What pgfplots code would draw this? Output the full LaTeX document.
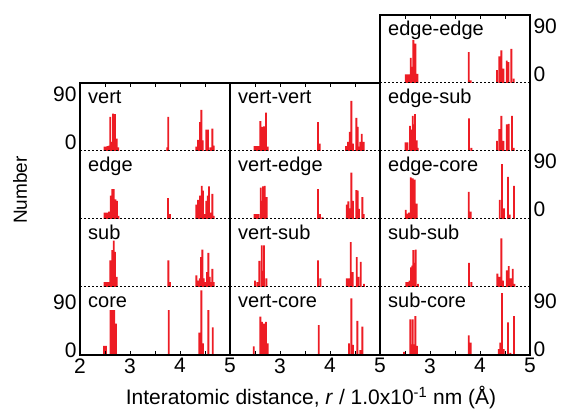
\documentclass[border=0pt]{standalone}
\usepackage{pgfplots}
\pgfplotsset{compat=1.18}
\usepackage{fontspec}
\setmainfont{Liberation Sans}
\definecolor{barred}{RGB}{237,28,36}
\newcommand{\tickfont}{\fontsize{21}{24}\selectfont}
\newcommand{\labfont}{\fontsize{20}{24}\selectfont}
\pgfplotsset{
 panel/.style={anchor=south west, scale only axis, width=150pt, height=68pt,
   xmin=2, xmax=5, ymin=0, ymax=127.5, axis line style={draw=none},
   xtick=\empty, ytick=\empty, major tick length=0pt, clip=false,
   yticklabel style={font=\tickfont}, /pgf/number format/assume math mode=true},
 leftlab/.style={ytick={0,90}, yticklabels={0,90}, yticklabel style={yshift=#1}},
 rightlab/.style={ytick={0,90}, yticklabels={0,90}, yticklabel pos=right, yticklabel style={yshift=#1}},
 frame/.style={anchor=south west, scale only axis, width=150pt,
   xmin=2, xmax=5, ymin=0, ymax=1, ytick=\empty,
   xtick={2,3,4,5}, minor xtick={2.5,3.5,4.5},
   major tick length=4pt, minor tick length=4pt, tick align=inside,
   tick style={black, line width=1pt}, axis line style={line width=2.8pt},
   xticklabel style={font=\tickfont}, /pgf/number format/assume math mode=true, clip=false}
}
\newcommand{\panel}[5]{%
 \begin{axis}[panel, at={(#1pt,#2pt)}, #4]
 \addplot[ybar, bar width=0.036, fill=barred, draw=none] coordinates {#5};
 \draw[line width=1pt, dash pattern=on 2pt off 2pt] (rel axis cs:0,0) -- (rel axis cs:1,0);
 \node[anchor=base west, font=\labfont, inner sep=0pt] at ([xshift=8pt,yshift=-21pt]rel axis cs:0,1) {#3};
 \end{axis}}
\begin{document}
\begin{tikzpicture}
\path[use as bounding box] (0,0) rectangle (563pt,412pt);
% ---- column 1
\panel{80}{261}{vert}{leftlab=9pt}{(2.49,8)(2.52,8)(2.55,9)(2.585,10)(2.607,64)(2.633,17)(2.66,70)(2.70,69)(2.733,23)(2.767,7)
 (3.747,7)(3.767,64)
 (4.327,8)(4.36,21)(4.40,54)(4.427,77)(4.453,20)(4.527,40)(4.56,40)(4.607,7)(4.647,42)(4.673,10)}
\panel{80}{193}{edge}{}{(2.49,12)(2.52,12)(2.55,12)(2.58,14)(2.613,44)(2.647,56)(2.673,56)(2.707,37)(2.74,34)(2.767,6)
 (3.76,39)(3.80,9)
 (4.327,27)(4.36,36)(4.40,44)(4.433,62)(4.46,53)(4.49,9)(4.527,34)(4.553,44)(4.58,61)(4.613,12)(4.647,47)(4.673,6)}
\panel{80}{125}{sub}{}{(2.49,9)(2.53,9)(2.565,9)(2.607,50)(2.647,69)(2.673,87)(2.70,66)(2.733,19)
 (3.767,50)(3.80,9)
 (4.327,22)(4.36,12)(4.393,16)(4.42,56)(4.447,70)(4.473,16)(4.51,9)(4.54,28)(4.567,64)(4.593,19)(4.62,9)(4.647,34)(4.673,9)}
\panel{80}{57}{core}{leftlab=5pt}{(2.48,17)(2.52,17)(2.613,84)(2.647,84)(2.687,84)(2.72,59)
 (3.773,84)
 (4.387,42)(4.427,121)(4.46,22)(4.567,84)(4.653,52)}
% ---- column 2
\panel{230}{261}{vert-vert}{}{(2.49,9)(2.53,9)(2.565,9)(2.607,56)(2.64,45)(2.68,46)(2.72,72)(2.753,8)
 (3.76,54)(3.793,14)
 (4.32,9)(4.36,17)(4.393,36)(4.427,94)(4.46,14)(4.527,62)(4.553,45)(4.58,8)(4.607,17)(4.633,32)(4.673,17)}
\panel{230}{193}{vert-edge}{}{(2.49,9)(2.53,9)(2.567,9)(2.613,59)(2.64,34)(2.66,61)(2.693,62)(2.733,41)
 (3.76,56)(3.80,9)(3.847,3)
 (4.333,27)(4.367,33)(4.40,20)(4.427,87)(4.46,34)(4.527,54)(4.553,53)(4.58,19)(4.647,41)(4.673,9)}
\panel{230}{125}{vert-sub}{}{(2.50,12)(2.547,9)(2.587,49)(2.633,78)(2.655,30)(2.68,78)(2.727,16)
 (3.76,50)(3.807,16)
 (4.333,16)(4.373,16)(4.413,84)(4.453,28)(4.533,56)(4.567,19)(4.613,47)(4.68,6)}
\panel{230}{57}{vert-core}{}{(2.473,16)(2.607,72)(2.64,62)(2.68,59)(2.72,62)(2.753,22)
 (3.773,56)
 (4.38,22)(4.427,106)(4.46,19)(4.547,64)(4.607,9)(4.647,53)}
% ---- column 3
\panel{380}{329}{edge-edge}{rightlab=9pt}{(2.513,16)(2.547,16)(2.58,16)(2.613,47)(2.64,30)(2.667,81)(2.707,74)(2.747,17)
 (3.773,58)(3.813,5)
 (4.34,24)(4.387,50)(4.427,61)(4.467,27)(4.533,42)(4.567,39)(4.627,64)(4.673,8)}
\panel{380}{261}{edge-sub}{}{(2.51,16)(2.55,16)(2.60,47)(2.627,40)(2.653,66)(2.68,50)(2.70,69)(2.735,20)(2.753,6)
 (3.78,61)(3.827,6)
 (4.34,19)(4.387,41)(4.427,66)(4.467,19)(4.533,50)(4.573,51)(4.64,66)(4.673,6)}
\panel{380}{193}{edge-core}{rightlab=10pt}{(2.513,17)(2.55,10)(2.58,12)(2.613,78)(2.653,76)(2.693,74)(2.733,29)
 (3.773,51)(3.813,14)
 (4.393,36)(4.44,103)(4.48,20)(4.56,79)(4.593,8)(4.68,62)}
\panel{380}{125}{sub-sub}{}{(2.527,9)(2.56,9)(2.59,12)(2.62,37)(2.643,40)(2.667,69)(2.69,45)(2.713,70)(2.76,6)
 (3.78,45)(3.827,9)
 (4.347,25)(4.387,19)(4.427,91)(4.46,12)(4.533,31)(4.573,39)(4.613,16)(4.653,34)(4.687,6)}
\panel{380}{57}{sub-core}{rightlab=6pt}{(2.48,6)(2.607,67)(2.63,20)(2.653,67)(2.68,20)(2.707,73)(2.74,17)
 (3.773,37)(3.813,23)
 (4.373,11)(4.407,23)(4.44,116)(4.473,11)(4.56,61)(4.607,4)(4.68,73)}
% ---- frames
\begin{axis}[frame, at={(80pt,57pt)}, height=272pt, xticklabels={2,3,4,5}]
\end{axis}
\begin{axis}[frame, at={(230pt,57pt)}, height=272pt, xticklabels={,3,4,5}]
\end{axis}
\begin{axis}[frame, at={(380pt,57pt)}, height=340pt, xticklabels={,3,4,5}]
\end{axis}
% ---- labels
\node[font=\fontsize{21}{24}\selectfont, anchor=base] at (311pt,7pt) {Interatomic distance, \textit{r} / 1.0x10\textsuperscript{-1} nm (Å)};
\node[font=\fontsize{19}{22}\selectfont, rotate=90] at (20pt,222pt) {Number};
\end{tikzpicture}
\end{document}
